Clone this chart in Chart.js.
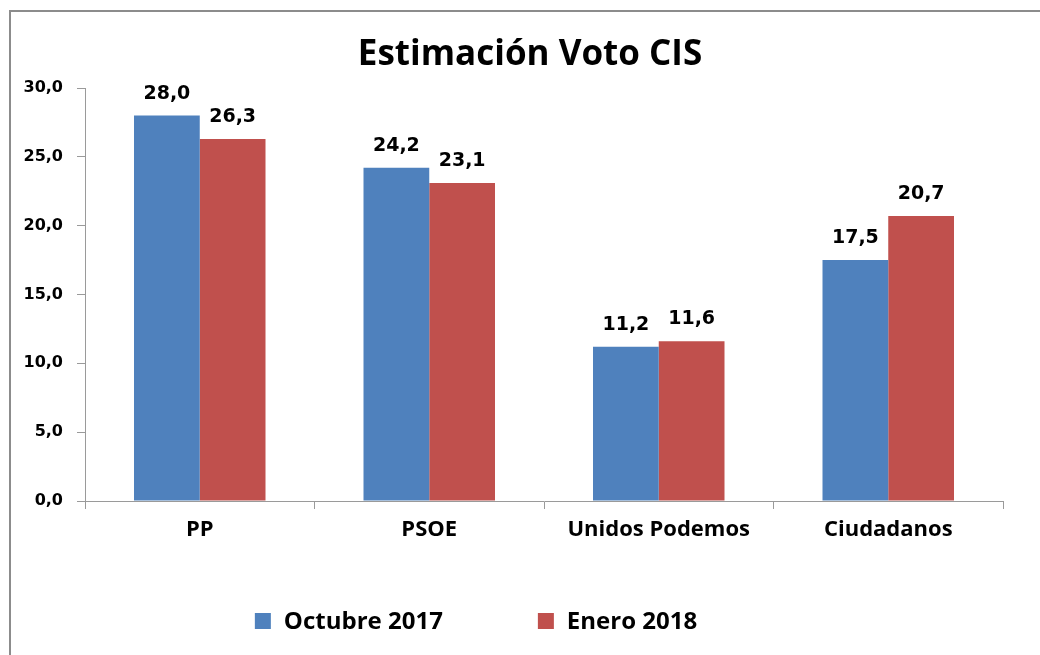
<!DOCTYPE html>
<html>
<head>
<meta charset="utf-8">
<script src="https://cdn.jsdelivr.net/npm/chart.js@4.4.1/dist/chart.umd.min.js"></script>
<style>
  html, body { margin: 0; padding: 0; background: #fff; overflow: hidden; }
  #wrap { position: relative; width: 1040px; height: 655px; }
  #frame { position: absolute; left: 9px; top: 10px; width: 1100px; height: 700px;
           border-left: 2px solid #8c8c8c; border-top: 2px solid #8c8c8c; }
  canvas { position: absolute; left: 0; top: 0; }
</style>
</head>
<body>
<div id="wrap">
  <div id="frame"></div>
  <canvas id="c" width="1040" height="655"></canvas>
</div>
<script>
const titleText = 'Estimación Voto CIS';
const categories = ['PP', 'PSOE', 'Unidos Podemos', 'Ciudadanos'];
const seriesNames = ['Octubre 2017', 'Enero 2018'];
const octubre2017 = [28.0, 24.2, 11.2, 17.5];
const enero2018 = [26.3, 23.1, 11.6, 20.7];
const yTicks = [0, 5, 10, 15, 20, 25, 30];
const colors = ['#4F81BD', '#C0504D'];

const fmt = v => v.toFixed(1).replace('.', ',');
const humanist = "'Open Sans', 'Noto Sans', sans-serif";
const verdanaLike = "'DejaVu Sans', Verdana, sans-serif";

const overlay = {
  id: 'overlay',
  afterDatasetsDraw(chart) {
    const ctx = chart.ctx;
    ctx.save();
    // value labels
    ctx.font = 'bold 19px ' + verdanaLike;
    ctx.fillStyle = '#000';
    ctx.textAlign = 'center';
    ctx.textBaseline = 'alphabetic';
    chart.data.datasets.forEach((ds, i) => {
      chart.getDatasetMeta(i).data.forEach((bar, j) => {
        ctx.fillText(fmt(ds.data[j]), bar.x, bar.y - 17);
      });
    });
    // title
    ctx.font = 'bold 35px ' + humanist;
    ctx.textBaseline = 'alphabetic';
    ctx.fillText(titleText, 530, 65);
    // legend
    ctx.font = 'bold 24px ' + humanist;
    ctx.textAlign = 'left';
    ctx.textBaseline = 'middle';
    const box = 16, gapBox = 13, gapItem = 95;
    const widths = chart.data.datasets.map(d => ctx.measureText(d.label).width);
    let total = 0;
    widths.forEach((w, i) => { total += box + gapBox + w + (i < widths.length - 1 ? gapItem : 0); });
    let x = 476 - total / 2;
    const y = 621;
    chart.data.datasets.forEach((d, i) => {
      ctx.fillStyle = d.backgroundColor;
      ctx.fillRect(x, y - box / 2, box, box);
      x += box + gapBox;
      ctx.fillStyle = '#000';
      ctx.fillText(d.label, x, y + 1);
      x += widths[i] + gapItem;
    });
    ctx.restore();
  }
};

new Chart(document.getElementById('c'), {
  type: 'bar',
  data: {
    labels: categories,
    datasets: [
      { label: seriesNames[0], data: octubre2017, backgroundColor: colors[0] },
      { label: seriesNames[1], data: enero2018, backgroundColor: colors[1] }
    ]
  },
  options: {
    responsive: false,
    animation: false,
    layout: { padding: { top: 88, right: 37, left: 0, bottom: 0 } },
    plugins: { legend: { display: false }, title: { display: false }, tooltip: { enabled: false } },
    datasets: { bar: { barPercentage: 1, categoryPercentage: 0.573 } },
    scales: {
      x: {
        afterFit: s => { s.height = 154; },
        grid: { display: true, drawOnChartArea: false, offset: true, tickLength: 8, color: '#9a9a9a' },
        border: { color: '#9a9a9a', width: 1 },
        ticks: { color: '#000', padding: 8, font: { family: humanist, size: 22, weight: 'bold' } }
      },
      y: {
        min: 0, max: 30,
        afterFit: s => { s.width = 85; },
        afterBuildTicks: s => { s.ticks = yTicks.map(v => ({ value: v })); },
        grid: { display: true, drawOnChartArea: false, tickLength: 8, color: '#9a9a9a' },
        border: { color: '#9a9a9a', width: 1 },
        ticks: { color: '#000', padding: 14, font: { family: verdanaLike, size: 16, weight: 'bold' },
                 callback: v => fmt(v) }
      }
    }
  },
  plugins: [overlay]
});
</script>
</body>
</html>
